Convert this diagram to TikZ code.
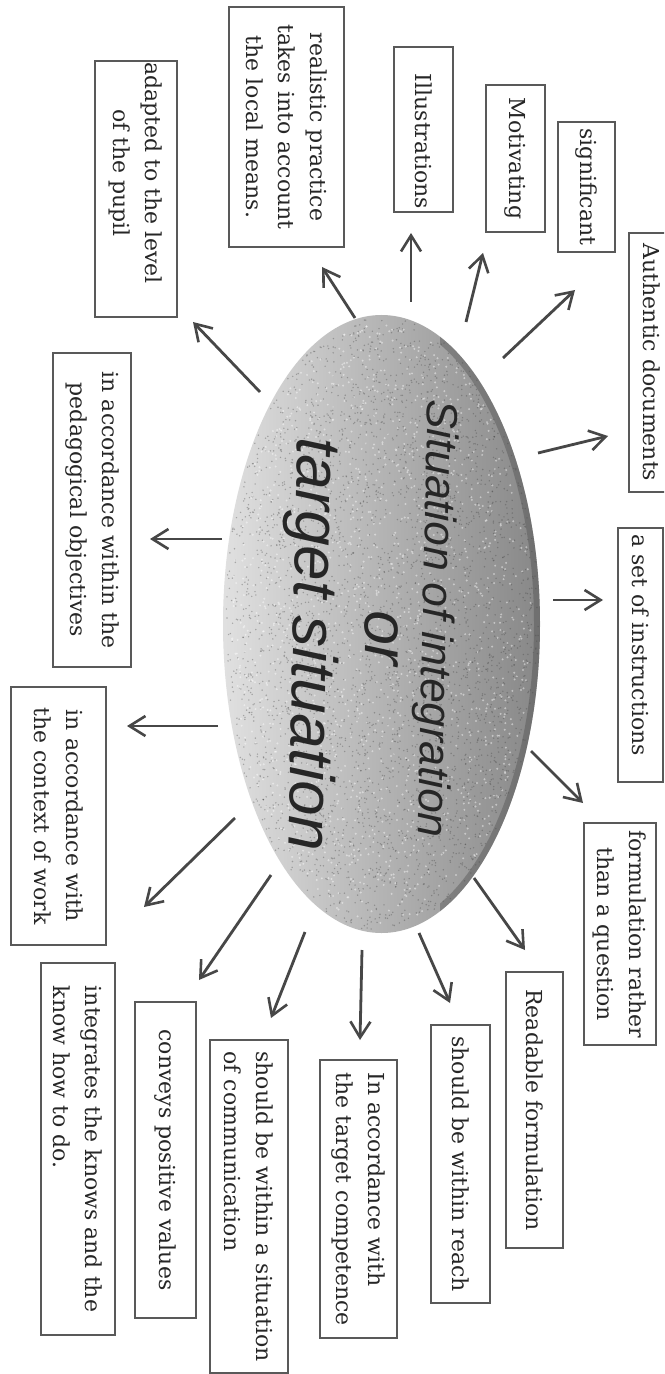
\documentclass[tikz,border=0pt]{standalone}
\usepackage{fontspec}
\setmainfont{DejaVu Serif}
\newfontfamily\titlefont{Liberation Sans}
\usetikzlibrary{shapes.geometric,arrows.meta,calc}
\begin{document}
\begin{tikzpicture}[x=0.5pt,y=-0.5pt,
  box/.style={draw=black!65, line width=0.6pt, rotate=-90, inner sep=0pt,
    font=\fontsize{11}{16}\selectfont, text=black!85},
  ttl/.style={rotate=-91.3, anchor=base west, inner sep=0pt, text=black!85},
  arr/.style={-{Straight Barb[length=8pt,width=10pt,line width=1.3pt]}, line width=1.4pt, draw=black!72},
]
\useasboundingbox (0,0) rectangle (664,1374);
\clip (0,0) rectangle (664,1374);
\fill[white] (0,0) rectangle (664,1374);

% central ellipse
\node[ellipse, minimum width=158.5pt, minimum height=309pt, inner sep=0pt,
  shading=axis, left color=black!12, right color=black!47] (ell) at (381.5,624) {};
\begin{scope}
  \clip (381.5,624) ellipse [x radius=158.5, y radius=309];
  \pgfmathsetseed{11}
  \foreach \i in {1,...,3500}{
    \pgfmathsetmacro\ang{360*rnd}
    \pgfmathsetmacro\rr{sqrt(rnd)}
    \fill[black!75,opacity=0.35] ({381.5+157*\rr*cos(\ang)},{624+307*\rr*sin(\ang)}) circle (0.8);
  }
  \foreach \i in {1,...,1500}{
    \pgfmathsetmacro\ang{360*rnd}
    \pgfmathsetmacro\rr{sqrt(rnd)}
    \fill[white,opacity=0.45] ({381.5+150*\rr*cos(\ang)},{624+300*\rr*sin(\ang)}) circle (1.1);
  }
  \begin{scope}
    \clip (440,0) rectangle (664,1374);
    \draw[line width=6pt, black!70, opacity=0.4]
      (381.5,624) ellipse [x radius=158.5, y radius=309];
  \end{scope}
\end{scope}

% title
\node[ttl, font=\titlefont\itshape\fontsize{22}{26}\selectfont] (t1) at (428,399) {Situation of integration};
\node[ttl, font=\titlefont\itshape\fontsize{31}{36}\selectfont] (t2) at (366,610) {or};
\node[ttl, font=\titlefont\itshape\fontsize{31.5}{36}\selectfont] (t3) at (298,437) {target situation};

% boxes
\node[box, minimum width=128pt, minimum height=41pt] (adapted) at (136,189)
  {\begin{tabular}{@{}c@{}}adapted to the level\\ of the pupil\end{tabular}\hspace*{16pt}};
\node[box, align=center, minimum width=120pt, minimum height=57.5pt] (realistic) at (286.5,127)
  {realistic practice\\ takes into account\\ the local means.};
\node[box, minimum width=82.5pt, minimum height=29.5pt] (illus) at (423.5,129.5) {\hspace*{12pt}Illustrations};
\node[box, minimum width=73.5pt, minimum height=29.5pt] (motiv) at (515.5,158.5) {Motivating};
\node[box, minimum width=65pt, minimum height=28.5pt] (signif) at (586.5,187) {significant};
\node[box, minimum width=129.5pt, minimum height=23pt] (auth) at (652,362.5) {Authentic documents};
\node[box, minimum width=127pt, minimum height=22.5pt] (instr) at (640.5,655) {a set of instructions\hspace*{10pt}};
\node[box, align=center, minimum width=111pt, minimum height=36pt] (formul) at (620,934)
  {formulation rather\\ than a question};
\node[box, minimum width=138pt, minimum height=28.5pt] (readable) at (534.5,1110) {Readable formulation};
\node[box, minimum width=139pt, minimum height=29.5pt] (reach) at (460.5,1164) {should be within reach};
\node[box, align=left, minimum width=139pt, minimum height=38.5pt] (compet) at (358.5,1199)
  {In accordance with\\ the target competence};
\node[box, align=left, minimum width=166.5pt, minimum height=39pt] (commun) at (249,1206.5)
  {should be within a situation\\ of communication};
\node[box, minimum width=158pt, minimum height=30.5pt] (conveys) at (165.5,1160) {conveys positive values};
\node[box, align=left, minimum width=186pt, minimum height=37pt] (integr) at (78,1149)
  {integrates the knows and the\\ know how to do.};
\node[box, align=center, minimum width=129pt, minimum height=47.5pt] (context) at (58.5,816)
  {in accordance with\\ the context of work};
\node[box, align=center, minimum width=157pt, minimum height=39pt] (pedag) at (92,510)
  {in accordance within the\\ pedagogical objectives};

% arrows
\coordinate (s1) at (260,392);  \coordinate (e1) at (193,322);
\coordinate (s2) at (355,318);  \coordinate (e2) at (322,267);
\coordinate (s3) at (411,302);  \coordinate (e3) at (411,233);
\coordinate (s4) at (466,322);  \coordinate (e4) at (483,253);
\coordinate (s5) at (503,358);  \coordinate (e5) at (575,290);
\coordinate (s6) at (538,453);  \coordinate (e6) at (608,436);
\coordinate (s7) at (553,600);  \coordinate (e7) at (603,600);
\coordinate (s8) at (531,751);  \coordinate (e8) at (583,803);
\coordinate (s9) at (474,878);  \coordinate (e9) at (525,950);
\coordinate (s10) at (419,933); \coordinate (e10) at (450,1003);
\coordinate (s11) at (362,950); \coordinate (e11) at (360,1040);
\coordinate (s12) at (305,932); \coordinate (e12) at (271,1018);
\coordinate (s13) at (271,875); \coordinate (e13) at (199,980);
\coordinate (s14) at (235,818); \coordinate (e14) at (144,907);
\coordinate (s15) at (218,726); \coordinate (e15) at (127,726);
\coordinate (s16) at (222,539); \coordinate (e16) at (150,539);
\foreach \k in {1,...,16}{ \draw[arr] (s\k) -- (e\k); }
\end{tikzpicture}
\end{document}
